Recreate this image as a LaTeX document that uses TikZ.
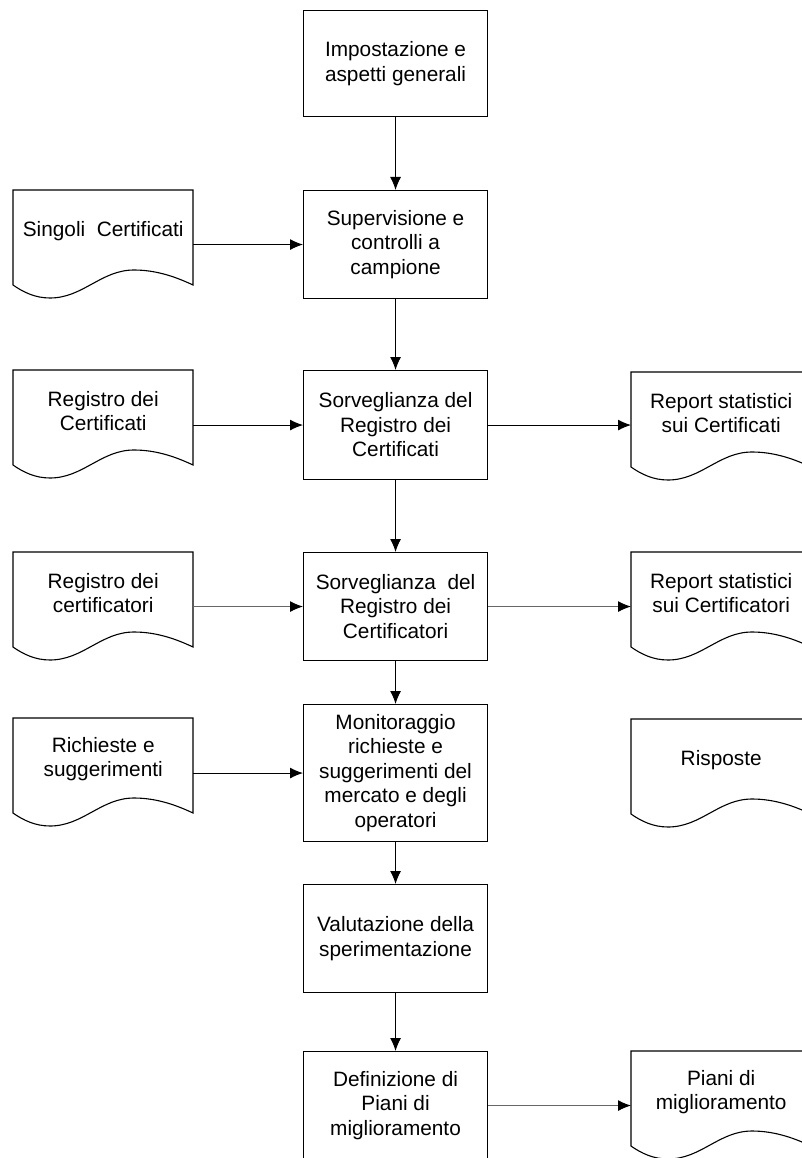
\documentclass[tikz,border=0pt]{standalone}
\usepackage{fontspec}
\setmainfont{Liberation Sans}
\usetikzlibrary{arrows.meta}

\tikzset{
  labelfont/.style={font=\fontsize{20.8}{24.5}\selectfont},
  flowbox/.style={draw, line width=1.1pt, rectangle, minimum width=184pt,
    inner sep=0pt, align=center, anchor=north west, labelfont},
  docnode/.style={rectangle, minimum width=180pt, minimum height=82pt,
    inner sep=0pt, align=center, anchor=north west, labelfont},
  docline/.style={draw, line width=1.1pt},
  link/.style={line width=1pt, -{Latex[length=13pt,width=11pt]}},
  faintlink/.style={line width=1pt, draw=black!60,
    -{Latex[length=13pt,width=11pt,color=black]}},
}

% outline of a document symbol: straight top and sides, wavy bottom edge
\newcommand{\docoutline}[1]{%
  \draw[docline, shift={(#1.north west)}]
    (0,0) -- (0,95)
    .. controls (10,102) and (22,108) .. (37,108)
    .. controls (70,108) and (88,80) .. (121,80)
    .. controls (145,80) and (165,88) .. (180,95)
    -- (180,0) -- cycle;}

\begin{document}
\begin{tikzpicture}[x=1pt, y=-1pt]
  \useasboundingbox (0,0) rectangle (802,1158);

  % main process column
  \node[flowbox, minimum height=106pt] (b1) at (303,10)   {Impostazione e\\aspetti generali};
  \node[flowbox, minimum height=108pt] (b2) at (303,190)  {Supervisione e\\controlli a\\campione};
  \node[flowbox, minimum height=109pt] (b3) at (303,370)  {Sorveglianza del\\Registro dei\\Certificati};
  \node[flowbox, minimum height=108pt] (b4) at (303,552)  {Sorveglianza\ \ del\\Registro dei\\Certificatori};
  \node[flowbox, minimum height=137pt] (b5) at (303,704)  {Monitoraggio\\richieste e\\suggerimenti del\\mercato e degli\\operatori};
  \node[flowbox, minimum height=108pt] (b6) at (303,884)  {Valutazione della\\sperimentazione};
  \node[flowbox, minimum height=108pt] (b7) at (303,1051) {Definizione di\\Piani di\\miglioramento};

  % input documents
  \node[docnode] (d2) at (13,190) {Singoli\ \ Certificati};
  \node[docnode] (d3) at (13,370) {Registro dei\\Certificati};
  \node[docnode] (d4) at (13,552) {Registro dei\\certificatori};
  \node[docnode] (d5) at (13,718) {Richieste e\\suggerimenti};

  % output documents
  \node[docnode] (r3) at (631,372)  {Report statistici\\sui Certificati};
  \node[docnode] (r4) at (631,552)  {Report statistici\\sui Certificatori};
  \node[docnode] (r5) at (631,719)  {Risposte};
  \node[docnode] (r7) at (631,1051) {Piani di\\miglioramento};

  \foreach \d in {d2,d3,d4,d5,r3,r4,r5,r7} {\docoutline{\d}}

  % vertical flow
  \draw[link] (b1) -- (b2);
  \draw[link] (b2) -- (b3);
  \draw[link] (b3) -- (b4);
  \draw[link] (b4) -- (b5);
  \draw[link] (b5) -- (b6);
  \draw[link] (b6) -- (b7);

  % inputs
  \draw[link]      (d2.east |- b2.west) -- (b2.west);
  \draw[link]      (d3.east |- b3.west) -- (b3.west);
  \draw[faintlink] (d4.east |- b4.west) -- (b4.west);
  \draw[link]      (d5.east |- b5.west) -- (b5.west);

  % outputs
  \draw[link]      (b3.east) -- (r3.west |- b3.east);
  \draw[faintlink] (b4.east) -- (r4.west |- b4.east);
  \draw[faintlink] (b7.east) -- (r7.west |- b7.east);
\end{tikzpicture}
\end{document}
